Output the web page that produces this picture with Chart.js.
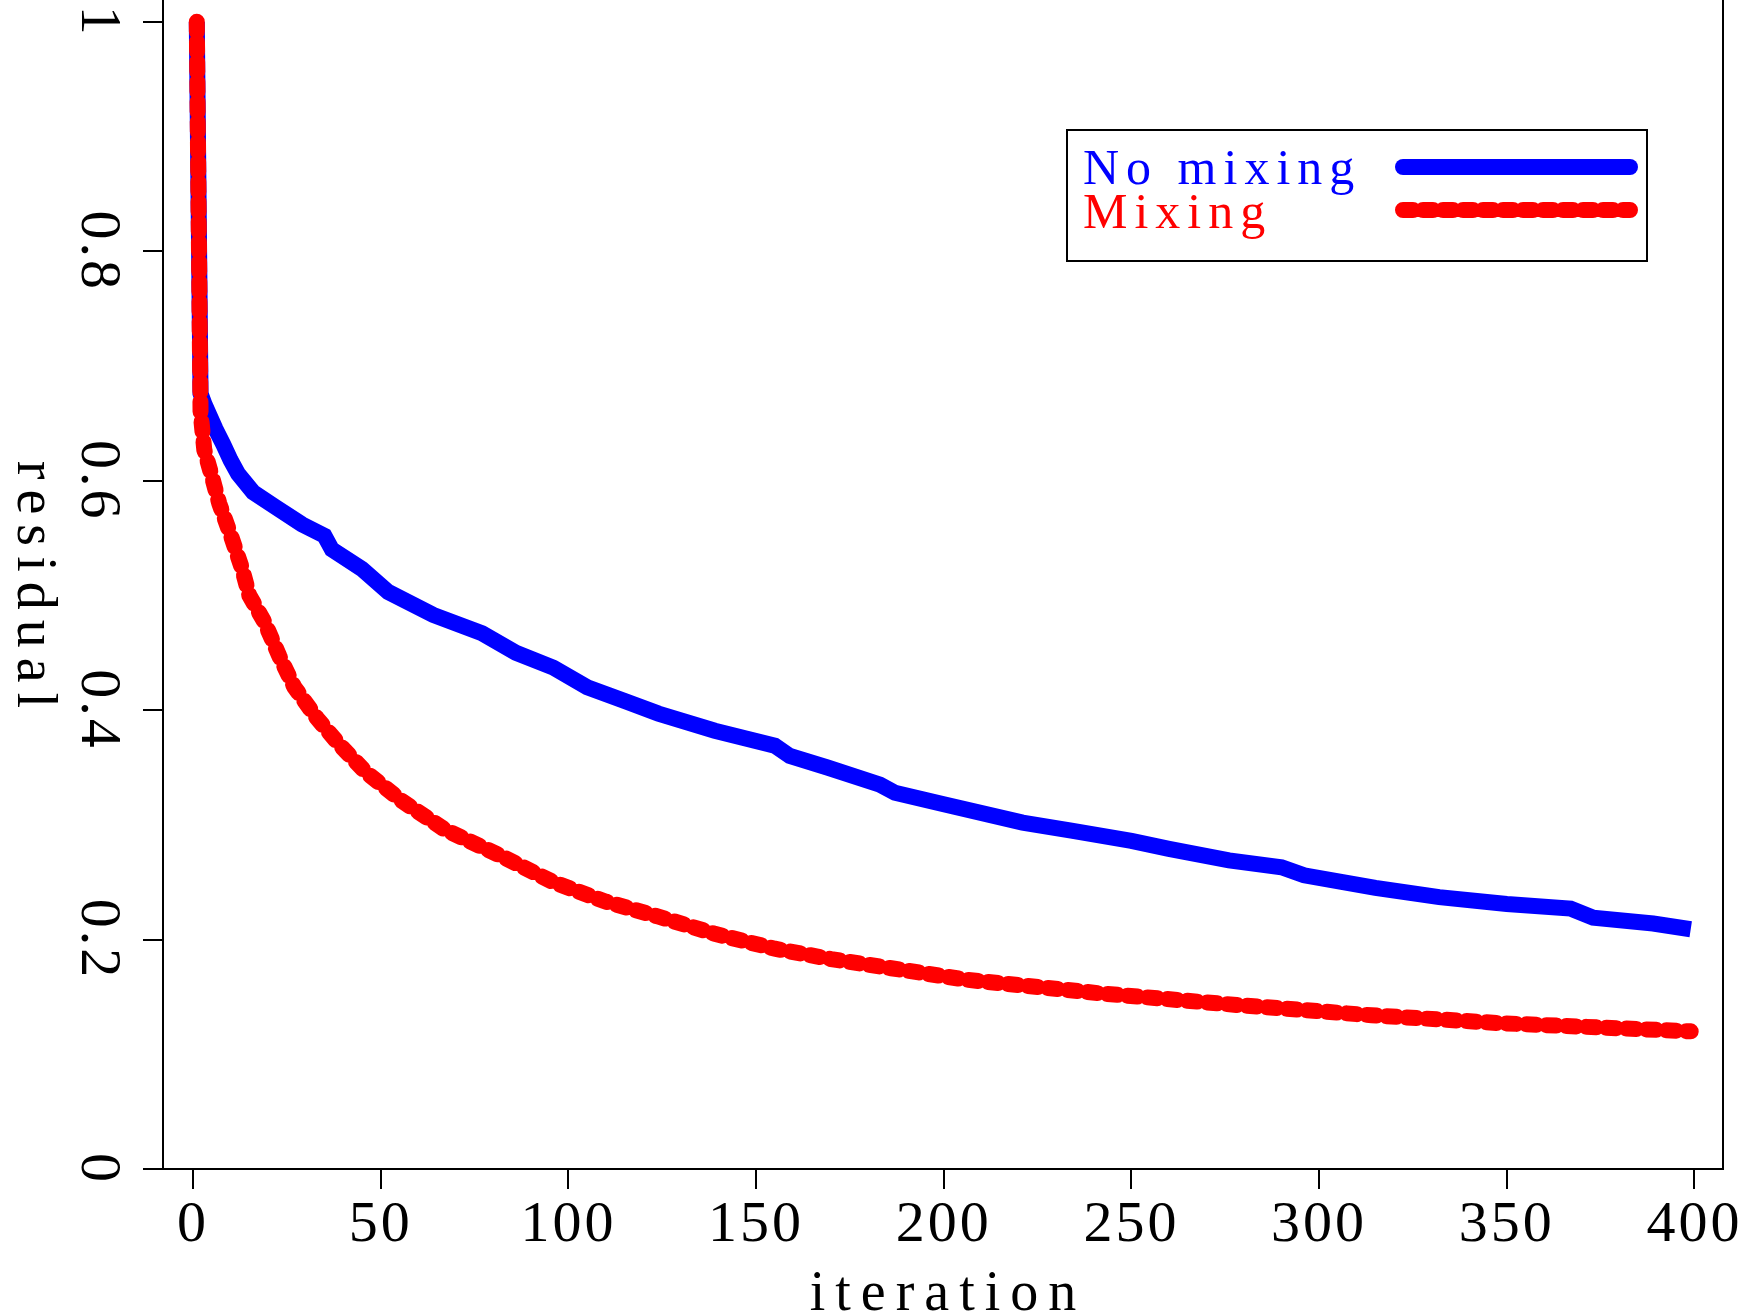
<!DOCTYPE html>
<html>
<head>
<meta charset="utf-8">
<title>residual vs iteration</title>
<script src="https://cdn.jsdelivr.net/npm/chart.js@4.4.1/dist/chart.umd.min.js"></script>
<style>
  html, body { margin: 0; padding: 0; background: #fff; }
  canvas { display: block; }
</style>
</head>
<body>
<canvas id="chart" width="1754" height="1316"></canvas>
<script>
// ticks
const xTicks = [0, 50, 100, 150, 200, 250, 300, 350, 400];
const yTicks = [0, 0.2, 0.4, 0.6, 0.8, 1];
const yTickLabels = ["0", "0.2", "0.4", "0.6", "0.8", "1"];

// series
const noMixIter = [1, 2, 3, 6, 8, 10, 12, 16, 22, 29, 35, 37, 45, 52, 64, 77, 86, 96, 105, 115, 124,
  139, 155, 159, 169, 183, 187, 200, 221, 234, 250, 260, 276, 290, 296, 315, 332, 350, 367, 373, 389, 399];
const noMixResidual = [1.0, 0.676, 0.667, 0.645, 0.632, 0.618, 0.606, 0.590, 0.577, 0.562, 0.552, 0.540, 0.523, 0.503, 0.483, 0.467, 0.450, 0.437, 0.420, 0.408, 0.397,
  0.382, 0.369, 0.360, 0.350, 0.335, 0.328, 0.318, 0.302, 0.295, 0.286, 0.279, 0.269, 0.263, 0.256, 0.245, 0.237, 0.231, 0.227, 0.219, 0.214, 0.209];

const mixIter = [1, 2, 3, 5, 7, 10, 13, 15, 19, 23, 27, 33, 39, 46, 56, 67, 82, 96, 110, 124,
  139, 155, 170, 186, 206, 242, 278, 314, 349, 399];
const mixResidual = [1.0, 0.660, 0.627, 0.604, 0.580, 0.553, 0.524, 0.500, 0.477, 0.447, 0.420, 0.393, 0.370, 0.346, 0.320, 0.296, 0.273, 0.250, 0.233, 0.220,
  0.205, 0.192, 0.183, 0.175, 0.165, 0.153, 0.143, 0.134, 0.127, 0.120];

const serif = "'Liberation Serif', 'Times New Roman', serif";
const toXY = (xs, ys) => xs.map((x, i) => ({ x, y: ys[i] }));

// rotated y labels, titles, right frame, legend
const extras = {
  id: "extras",
  beforeDraw(chart) {
    chart.ctx.letterSpacing = "3px";
  },
  afterDraw(chart) {
    const { ctx, chartArea: a, scales } = chart;
    ctx.save();
    ctx.strokeStyle = "#000";
    ctx.lineWidth = 2;
    ctx.beginPath();
    ctx.moveTo(a.right, a.top);
    ctx.lineTo(a.right, a.bottom);
    ctx.stroke();

    ctx.fillStyle = "#000";
    ctx.textAlign = "center";
    ctx.textBaseline = "alphabetic";

    // y tick labels, reading top to bottom
    ctx.font = `58px ${serif}`;
    ctx.letterSpacing = "3px";
    yTicks.forEach((v, i) => {
      ctx.save();
      ctx.translate(a.left - 81, scales.y.getPixelForValue(v));
      ctx.rotate(Math.PI / 2);
      ctx.fillText(yTickLabels[i], 0, 0);
      ctx.restore();
    });

    // axis titles
    ctx.font = `56px ${serif}`;
    ctx.letterSpacing = "10px";
    ctx.save();
    ctx.translate(18, (a.top + a.bottom) / 2);
    ctx.rotate(Math.PI / 2);
    ctx.fillText("residual", 5, 0);
    ctx.restore();
    ctx.fillText("iteration", (a.left + a.right) / 2 + 5, 1310);

    // legend
    const bx = 1067, by = 130, bw = 580, bh = 131;
    ctx.lineWidth = 2;
    ctx.strokeRect(bx, by, bw, bh);
    ctx.textAlign = "left";
    ctx.font = `50px ${serif}`;
    ctx.letterSpacing = "7px";
    const rows = [{ text: 184, line: 167 }, { text: 228, line: 210 }];
    chart.data.datasets.forEach((ds, i) => {
      ctx.fillStyle = ds.borderColor;
      ctx.fillText(ds.label, bx + 16, rows[i].text);
      ctx.strokeStyle = ds.borderColor;
      ctx.lineWidth = 16;
      ctx.lineCap = "round";
      ctx.setLineDash(ds.borderDash || []);
      ctx.beginPath();
      ctx.moveTo(1403, rows[i].line);
      ctx.lineTo(1630, rows[i].line);
      ctx.stroke();
    });
    ctx.restore();
  }
};

new Chart(document.getElementById("chart"), {
  type: "line",
  data: {
    datasets: [
      {
        label: "No mixing",
        data: toXY(noMixIter, noMixResidual),
        borderColor: "#0000ff",
        borderWidth: 16,
        borderCapStyle: "butt",
        pointRadius: 0,
        tension: 0,
        order: 2,
      },
      {
        label: "Mixing",
        data: toXY(mixIter, mixResidual),
        borderColor: "#ff0000",
        borderWidth: 16,
        borderDash: [10, 10],
        borderCapStyle: "round",
        pointRadius: 0,
        tension: 0,
        order: 1,
      },
    ],
  },
  options: {
    responsive: false,
    animation: false,
    layout: { padding: { top: 0, right: 31, left: 0, bottom: 0 } },
    plugins: { legend: { display: false }, tooltip: { enabled: false } },
    scales: {
      x: {
        type: "linear",
        min: -8,
        max: 407.6,
        afterBuildTicks: (s) => { s.ticks = xTicks.map((v) => ({ value: v })); },
        afterFit: (s) => { s.height = 147; },
        grid: { drawOnChartArea: false, drawTicks: true, tickLength: 20, color: "#000", lineWidth: 2 },
        border: { display: true, color: "#000", width: 2 },
        ticks: { color: "#000", font: { family: serif, size: 58 }, padding: 2, maxRotation: 0 },
      },
      y: {
        type: "linear",
        min: 0,
        max: 1.019,
        afterBuildTicks: (s) => { s.ticks = yTicks.map((v) => ({ value: v })); },
        afterFit: (s) => { s.width = 163; },
        grid: { drawOnChartArea: false, drawTicks: true, tickLength: 20, color: "#000", lineWidth: 2 },
        border: { display: true, color: "#000", width: 2 },
        ticks: { display: false },
      },
    },
  },
  plugins: [extras],
});
</script>
</body>
</html>
